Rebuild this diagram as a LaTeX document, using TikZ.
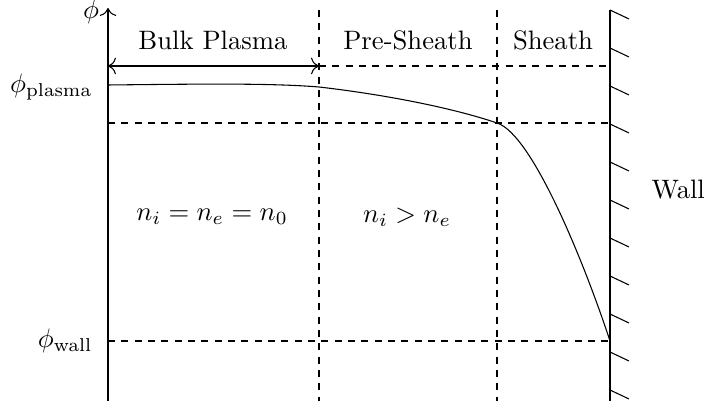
\documentclass[tikz,border=0pt]{standalone}
\usetikzlibrary{arrows.meta}
\begin{document}
\begin{tikzpicture}[x=0.375pt,y=-0.375pt,
  guide/.style={dash pattern=on 2.6pt off 2.4pt, line width=0.4pt},
  solidline/.style={line width=0.4pt},
  lbl/.style={inner sep=0pt}]
\useasboundingbox (0,0) rectangle (704,401);
% coordinates
\coordinate (axb) at (108,401);
\coordinate (axt) at (108,8);
\coordinate (wb) at (610,401);
\coordinate (wt) at (610,10);
\coordinate (v1t) at (319,10);
\coordinate (v1b) at (319,401);
\coordinate (v2t) at (497,10);
\coordinate (v2b) at (497,401);
\coordinate (h0a) at (319,66);
\coordinate (h0b) at (610,66);
\coordinate (h1a) at (108,123);
\coordinate (h1b) at (610,123);
\coordinate (h2a) at (108,341);
\coordinate (h2b) at (610,341);
\coordinate (ba) at (108,66);
\coordinate (bb) at (319,66);
% axis
\draw[solidline,-{To[scale=1.2]}] (axb) -- (axt);
% wall
\draw[solidline] (wb) -- (wt);
\foreach \y in {10,48,86,124,162,200,238,276,314,352,390}
  \draw[solidline] (610,\y) -- ++(19,9);
% dashed guides
\draw[guide] (v1t) -- (v1b);
\draw[guide] (v2t) -- (v2b);
\draw[guide] (h0a) -- (h0b);
\draw[guide] (h1a) -- (h1b);
\draw[guide] (h2a) -- (h2b);
% bulk arrow
\draw[solidline,{To[scale=1.2]}-{To[scale=1.2]}] (ba) -- (bb);
% potential curve
\draw[solidline] (108,85) .. controls (200,84) and (270,83) .. (319,87)
  .. controls (380,94) and (450,107) .. (497,123)
  .. controls (532,134) and (584,262) .. (610,341);
% labels
\node[lbl] (phi) at (91,12) {$\phi$};
\node[lbl] (bulk) at (213,40) {Bulk Plasma};
\node[lbl] (pre) at (408,40) {Pre-Sheath};
\node[lbl] (sheath) at (553,40) {Sheath};
\node[lbl, anchor=east] (pp) at (93,87) {$\phi_{\mathrm{plasma}}$};
\node[lbl, anchor=east] (pw) at (93,341) {$\phi_{\mathrm{wall}}$};
\node[lbl, anchor=west] (wall) at (651,190) {Wall};
\node[lbl] (n1) at (212,217) {$n_i = n_e = n_0$};
\node[lbl] (n2) at (407,217) {$n_i > n_e$};
\end{tikzpicture}
\end{document}
